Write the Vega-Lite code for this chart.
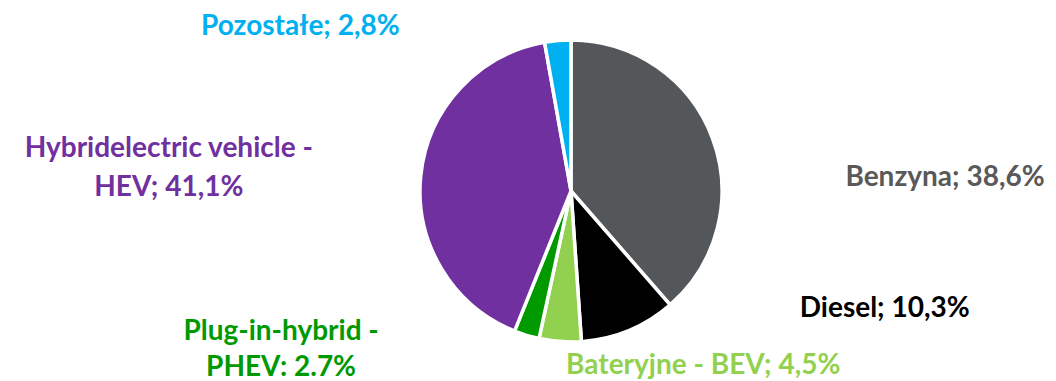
{
  "$schema": "https://vega.github.io/schema/vega-lite/v6.json",
  "width": 970,
  "height": 380,
  "autosize": "none",
  "padding": {"left": 86, "top": 1, "right": 0, "bottom": 0},
  "background": "#ffffff",
  "config": {"view": {"stroke": null}, "text": {"font": "Lato", "fontWeight": "bold", "fontSize": 28}},
  "data": {
    "values": [
      {"cat": "Benzyna", "value": 38.6, "order": 1, "label": "Benzyna; 38,6%"},
      {"cat": "Diesel", "value": 10.3, "order": 2, "label": "Diesel; 10,3%"},
      {"cat": "Bateryjne - BEV", "value": 4.5, "order": 3, "label": "Bateryjne - BEV; 4,5%"},
      {"cat": "Plug-in-hybrid - PHEV", "value": 2.7, "order": 4, "label": "Plug-in-hybrid -\nPHEV: 2.7%"},
      {"cat": "Hybridelectric vehicle - HEV", "value": 41.1, "order": 5, "label": "Hybridelectric vehicle -\nHEV; 41,1%"},
      {"cat": "Pozostałe", "value": 2.8, "order": 6, "label": "Pozostałe; 2,8%"}
    ]
  },
  "encoding": {
    "theta": {"field": "value", "type": "quantitative", "stack": true},
    "order": {"field": "order", "type": "quantitative"}
  },
  "layer": [
    {
      "mark": {"type": "arc", "radius": 151, "stroke": "#ffffff", "strokeWidth": 3.5},
      "encoding": {
        "color": {
          "field": "cat", "type": "nominal", "legend": null,
          "scale": {
            "domain": ["Benzyna", "Diesel", "Bateryjne - BEV", "Plug-in-hybrid - PHEV", "Hybridelectric vehicle - HEV", "Pozostałe"],
            "range": ["#54575A", "#000000", "#92D050", "#009A00", "#7030A0", "#00B0F0"]
          }
        }
      }
    },
    {
      "mark": {"type": "text", "radius": 151, "align": "left", "baseline": "alphabetic", "dx": 133, "dy": 48, "color": "#595959"},
      "encoding": {"detail": {"field": "cat"}, "text": {"condition": {"test": "datum.cat === 'Benzyna'", "field": "label"}, "value": ""}}
    },
    {
      "mark": {"type": "text", "radius": 151, "align": "left", "baseline": "alphabetic", "dx": 171, "dy": -13.5, "color": "#000000"},
      "encoding": {"detail": {"field": "cat"}, "text": {"condition": {"test": "datum.cat === 'Diesel'", "field": "label"}, "value": ""}}
    },
    {
      "mark": {"type": "text", "radius": 151, "align": "left", "baseline": "alphabetic", "dx": 6, "dy": 32.5, "color": "#92D050"},
      "encoding": {"detail": {"field": "cat"}, "text": {"condition": {"test": "datum.cat === 'Bateryjne - BEV'", "field": "label"}, "value": ""}}
    },
    {
      "mark": {"type": "text", "radius": 151, "align": "center", "baseline": "alphabetic", "lineBreak": "\n", "lineHeight": 36, "dx": -245.5, "dy": 5, "color": "#009A00"},
      "encoding": {"detail": {"field": "cat"}, "text": {"condition": {"test": "datum.cat === 'Plug-in-hybrid - PHEV'", "field": "label"}, "value": ""}}
    },
    {
      "mark": {"type": "text", "radius": 151, "align": "center", "baseline": "alphabetic", "lineBreak": "\n", "lineHeight": 39, "dx": -252, "dy": -18.5, "color": "#7030A0"},
      "encoding": {"detail": {"field": "cat"}, "text": {"condition": {"test": "datum.cat === 'Hybridelectric vehicle - HEV'", "field": "label"}, "value": ""}}
    },
    {
      "mark": {"type": "text", "radius": 151, "align": "right", "baseline": "alphabetic", "dx": -158, "dy": -5.5, "color": "#00B0F0"},
      "encoding": {"detail": {"field": "cat"}, "text": {"condition": {"test": "datum.cat === 'Pozostałe'", "field": "label"}, "value": ""}}
    }
  ]
}
